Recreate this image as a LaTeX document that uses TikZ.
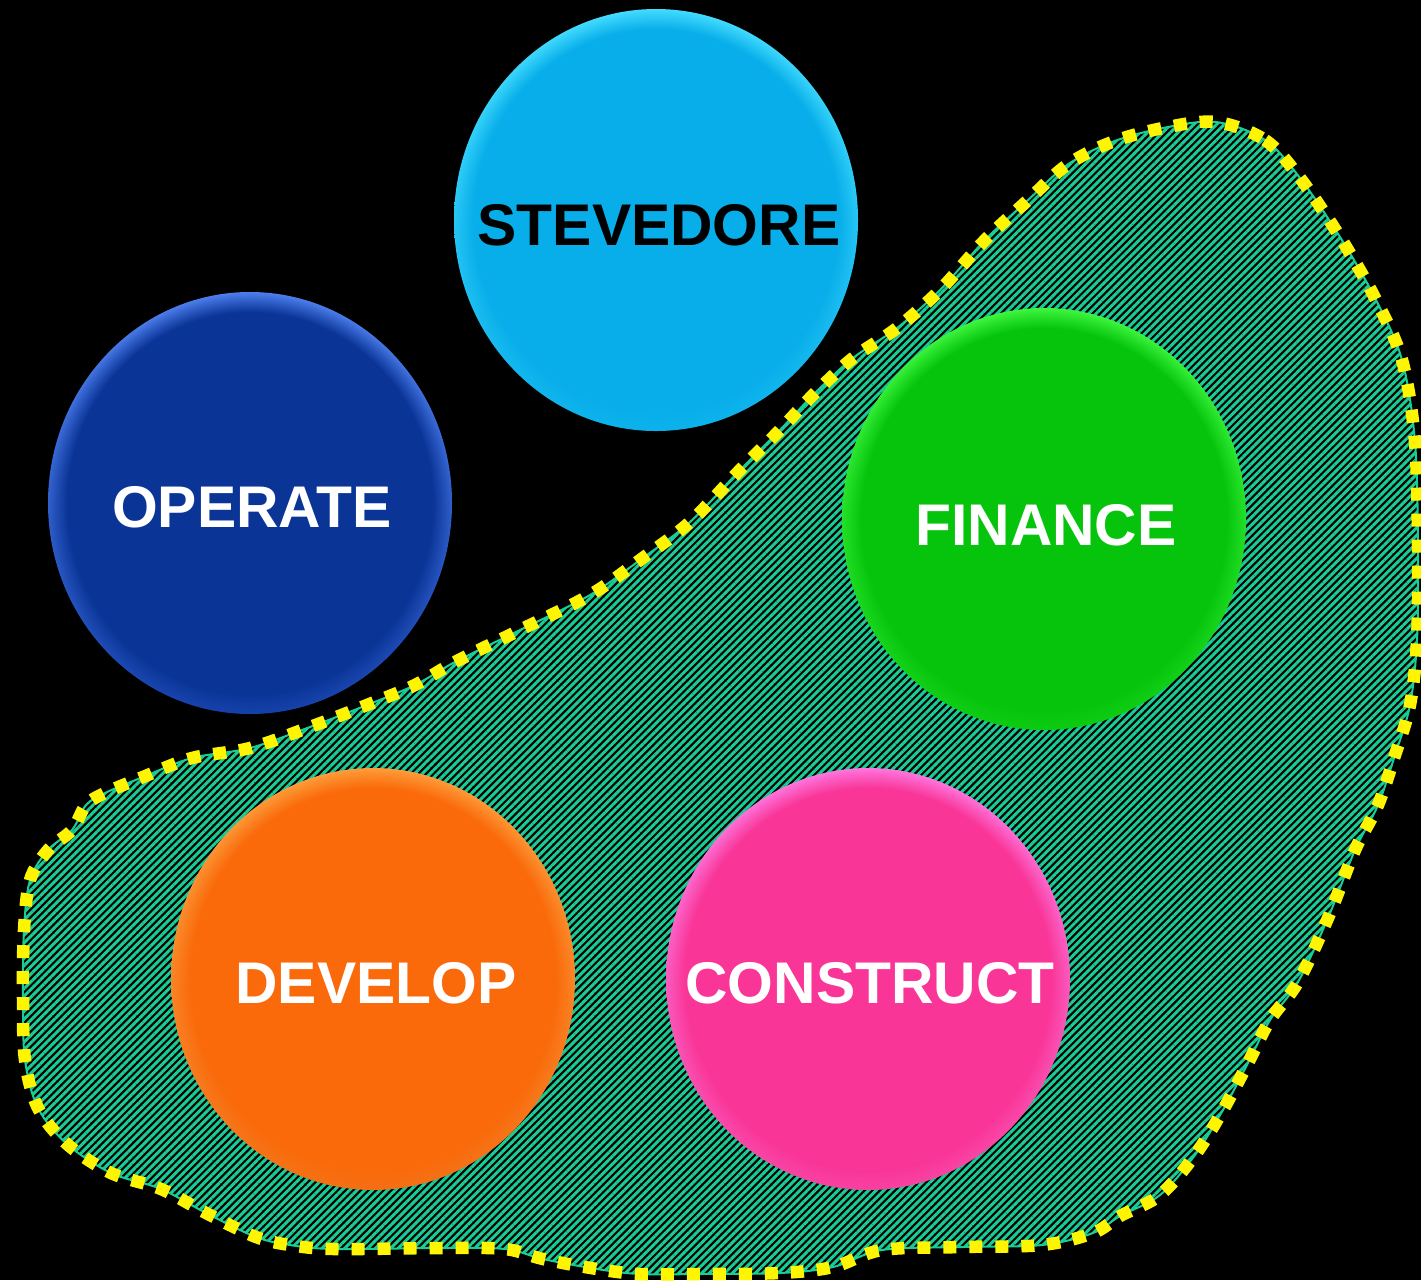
\documentclass[tikz,border=0pt]{standalone}
\usepackage{fontspec}
\setmainfont{Liberation Sans}
\usetikzlibrary{patterns.meta,fadings}

% bubble colours: body, rim highlight, lower rim
\definecolor{stevbody}{RGB}{8,174,234}
\definecolor{stevrim}{RGB}{70,222,255}
\definecolor{stevlow}{RGB}{12,178,236}
\definecolor{operbody}{RGB}{10,52,150}
\definecolor{operrim}{RGB}{80,130,240}
\definecolor{operlow}{RGB}{22,66,172}
\definecolor{finbody}{RGB}{6,196,12}
\definecolor{finrim}{RGB}{65,248,65}
\definecolor{finlow}{RGB}{12,204,18}
\definecolor{devbody}{RGB}{250,106,10}
\definecolor{devrim}{RGB}{255,158,60}
\definecolor{devlow}{RGB}{244,112,22}
\definecolor{conbody}{RGB}{249,53,151}
\definecolor{conrim}{RGB}{255,120,225}
\definecolor{conlow}{RGB}{248,66,162}
\definecolor{hatch}{RGB}{24,206,150}
\definecolor{dashyellow}{RGB}{255,245,0}

\tikzset{
  bubbletext/.style={anchor=base, inner sep=0pt, font=\fontsize{59}{59}\selectfont\bfseries},
  groupfill/.style={pattern={Lines[angle=45,distance=5.4bp,line width=3bp]}, pattern color=hatch},
  groupline/.style={draw=dashyellow, line width=12.5bp, dash pattern=on 13bp off 13bp},
}

% #1 name, #2 centre, #3 colour prefix, #4 text colour, #5 text, #6 text base point
\newcommand\bubble[6]{%
  \shade[top color=#3rim, bottom color=#3low] #2 ellipse [x radius=202bp, y radius=211bp];
  \fill[#3body, path fading=circle with fuzzy edge 10 percent] #2 ellipse [x radius=202bp, y radius=211bp];
  \node[bubbletext, text=#4] (#1) at #6 {#5};
}

\begin{document}
\begin{tikzpicture}[x=1bp, y=-1bp]
\fill[black] (0,0) rectangle (1421,1280);
\useasboundingbox (0,0) rectangle (1421,1280);

% hatched group outline
\def\grouppath{plot[smooth cycle, tension=0.55] coordinates {
  (1216,122) (1265,140) (1300,178) (1340,237) (1375,298) (1402,360)
  (1415,442) (1418,547) (1417,640) (1410,705) (1395,755) (1378,805)
  (1355,850) (1328,918) (1298,982) (1270,1020) (1248,1063) (1223,1110)
  (1195,1155) (1160,1195) (1120,1216) (1093,1233) (1042,1245) (962,1247)
  (882,1250) (833,1267) (780,1273) (700,1274) (640,1274) (597,1269)
  (543,1259) (505,1249) (440,1248) (334,1249) (290,1245) (256,1237)
  (208,1214) (161,1189) (111,1173) (67,1144) (38,1108) (25,1060)
  (23,998) (24,930) (30,880) (48,850) (72,830) (86,805) (105,793)
  (143,777) (192,758) (250,748) (310,727) (367,705) (415,685)
  (455,662) (520,630) (590,595) (640,560) (690,522) (740,470)
  (778,432) (815,393) (853,358) (897,328) (940,290) (985,240)
  (1027,201) (1067,165) (1112,142) (1163,128)}}
\fill[groupfill] \grouppath;
\draw[hatch, line width=2bp] \grouppath;
\draw[groupline] \grouppath;

% bubbles
\bubble{stevedore}{(656,220)}{stev}{black}{STEVEDORE}{(659,245)}
\bubble{operate}{(250,503)}{oper}{white}{OPERATE}{(252,527)}
\bubble{finance}{(1044,519)}{fin}{white}{FINANCE}{(1046,545)}
\bubble{develop}{(373,979)}{dev}{white}{DEVELOP}{(376,1003)}
\bubble{construct}{(868,979)}{con}{white}{CONSTRUCT}{(870,1003)}
\end{tikzpicture}
\end{document}
